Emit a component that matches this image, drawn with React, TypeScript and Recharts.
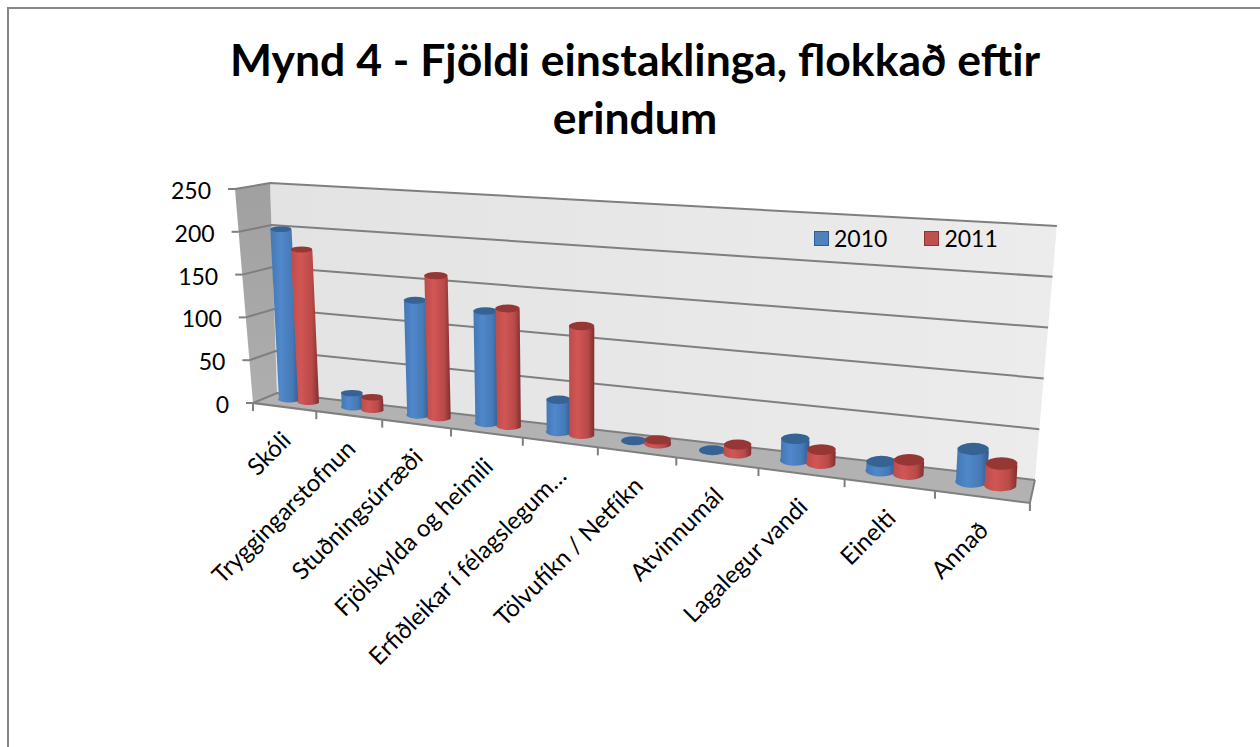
import { Bar, BarChart, Legend, ReferenceArea, XAxis, YAxis } from 'recharts';

const CATEGORIES = [
  'Skóli',
  'Tryggingarstofnun',
  'Stuðningsúrræði',
  'Fjölskylda og heimili',
  'Erfiðleikar í félagslegum…',
  'Tölvufíkn / Netfíkn',
  'Atvinnumál',
  'Lagalegur vandi',
  'Einelti',
  'Annað',
];
const VALUES_2010 = [200, 16, 130, 125, 35, 0, 0, 22, 9, 32];
const VALUES_2011 = [178, 14, 160, 130, 118, 4, 9, 14, 14, 21];
const Y_TICKS = [0, 50, 100, 150, 200, 250];
const Y_MAX = 250;

const data = CATEGORIES.map((name, i) => ({ name, y2010: VALUES_2010[i], y2011: VALUES_2011[i] }));

const WIDTH = 1260;
const HEIGHT = 747;
// flat plot rectangle that recharts lays out, later bent into the 3d box
const PLOT = { left: 253, right: 1030, top: 189, bottom: 403 };

// corners of the 3d box on screen
const FLOOR_BACK = [[277, 393], [1035, 480]];
const FLOOR_FRONT = [[253, 403], [1030, 503]];
const TOP_BACK = [[270, 183], [1057, 226]];
const TOP_FRONT = [[235, 189], [1035, 243]];
const BAR_DEPTH = 0.38;

const mix = (a: number, b: number, k: number) => a + (b - a) * k;
const mixPt = (a: number[], b: number[], k: number) => [mix(a[0], b[0], k), mix(a[1], b[1], k)];

// horizontal perspective, things get wider to the right
const persp = (t: number) => (t * 0.798) / (1 - 0.2019 * t);
const toT = (x: number) => (x - PLOT.left) / (PLOT.right - PLOT.left);
const toV = (y: number) => (PLOT.bottom - y) / (PLOT.bottom - PLOT.top);

function project(t: number, depth: number, v: number) {
  const s = persp(t);
  const floor = mixPt(mixPt(FLOOR_BACK[0], FLOOR_BACK[1], s), mixPt(FLOOR_FRONT[0], FLOOR_FRONT[1], s), depth);
  const top = mixPt(mixPt(TOP_BACK[0], TOP_BACK[1], s), mixPt(TOP_FRONT[0], TOP_FRONT[1], s), depth);
  return mixPt(floor, top, v);
}

const pts = (list: number[][]) => list.map((p) => p.join(',')).join(' ');

function Box() {
  return (
    <g>
      <polygon points={pts([project(0, 0, 0), project(1, 0, 0), project(1, 0, 1), project(0, 0, 1)])} fill="url(#wallFill)" />
      <polygon points={pts([project(0, 0, 0), project(0, 1, 0), project(0, 1, 1), project(0, 0, 1)])} fill="url(#sideFill)" />
      <polygon points={pts([project(0, 0, 0), project(1, 0, 0), project(1, 1, 0), project(0, 1, 0)])} fill="#b2b2b2" />
      {Y_TICKS.map((tick) => {
        const v = tick / Y_MAX;
        return (
          <polyline
            key={tick}
            points={pts([project(0, 1, v), project(0, 0, v), project(1, 0, v)])}
            fill="none"
            stroke="#7f7f7f"
            strokeWidth={2}
          />
        );
      })}
      <polyline points={pts([project(1, 0, 0), project(1, 1, 0), project(0, 1, 0)])} fill="none" stroke="#7f7f7f" strokeWidth={2} />
    </g>
  );
}

function Cylinder({ x, y, width, height, fill, top }: any) {
  const left = toT(x);
  const right = toT(x + width);
  const mid = (left + right) / 2;
  const v = toV(y);
  const b0 = project(left, BAR_DEPTH, 0);
  const b1 = project(right, BAR_DEPTH, 0);
  const t0 = project(left, BAR_DEPTH, v);
  const t1 = project(right, BAR_DEPTH, v);
  const s = persp(mid);
  const ry = 0.28 * (mix(FLOOR_FRONT[0][1], FLOOR_FRONT[1][1], s) - mix(FLOOR_BACK[0][1], FLOOR_BACK[1][1], s));
  const rx = (b1[0] - b0[0]) / 2;
  const cx = (t0[0] + t1[0]) / 2;
  const cy = (t0[1] + t1[1]) / 2;
  if (!height) {
    // empty value, only the flat disc is left
    return <ellipse cx={cx} cy={cy} rx={rx} ry={ry} fill={top} />;
  }
  const body = `M${b0[0]},${b0[1]} A${rx},${ry} 0 0 0 ${b1[0]},${b1[1]} L${t1[0]},${t1[1]} L${t0[0]},${t0[1]} Z`;
  return (
    <g>
      <path d={body} fill={fill} />
      <ellipse cx={cx} cy={cy} rx={(t1[0] - t0[0]) / 2} ry={ry} fill={top} />
    </g>
  );
}

function YTick({ y, payload }: any) {
  const p = project(0, 1, toV(y));
  return (
    <g>
      <line x1={p[0] - 7} y1={p[1]} x2={p[0]} y2={p[1]} stroke="#7f7f7f" strokeWidth={2} />
      <text x={p[0] - 24} y={p[1]} dy={10} textAnchor="end" fontSize={23} fontFamily="Lato" fill="#000">
        {payload.value}
      </text>
    </g>
  );
}

function XTick({ x, payload, index }: any) {
  const band = 1 / CATEGORIES.length;
  const t = toT(x);
  const edge = project(t - band / 2, 1, 0);
  const c = project(t, 1, 0);
  return (
    <g>
      <line x1={edge[0]} y1={edge[1]} x2={edge[0]} y2={edge[1] + 8} stroke="#7f7f7f" strokeWidth={2} />
      {index === CATEGORIES.length - 1 && (() => {
        const end = project(1, 1, 0);
        return <line x1={end[0]} y1={end[1]} x2={end[0]} y2={end[1] + 8} stroke="#7f7f7f" strokeWidth={2} />;
      })()}
      <text
        x={c[0] + 8}
        y={c[1] + 35}
        textAnchor="end"
        fontSize={24}
        fontFamily="Lato"
        fill="#000"
        transform={`rotate(-45 ${c[0] + 8} ${c[1] + 35})`}
      >
        {payload.value}
      </text>
    </g>
  );
}

function LegendBox({ payload }: any) {
  return (
    <div style={{ display: 'flex', gap: 37, fontFamily: 'Lato', fontSize: 23, color: '#000', lineHeight: '26px' }}>
      {(payload || []).map((item: any) => (
        <div key={item.value} style={{ display: 'flex', alignItems: 'center', gap: 5 }}>
          <div
            style={{
              width: 15,
              height: 15,
              boxSizing: 'border-box',
              border: `1px solid ${item.value === '2010' ? '#2f5c92' : '#8f3432'}`,
              background: item.value === '2010' ? '#4f81bd' : '#c0504d',
            }}
          />
          {item.value}
        </div>
      ))}
    </div>
  );
}

export default function App() {
  return (
    <div style={{ position: 'absolute', left: 0, top: 0, width: WIDTH, height: HEIGHT, overflow: 'hidden', background: '#fff' }}>
      <div style={{ position: 'absolute', left: 7, top: 7, width: WIDTH, height: HEIGHT, borderLeft: '2px solid #868686', borderTop: '2px solid #868686' }} />
      <div
        style={{
          position: 'absolute',
          left: 0,
          top: 30,
          width: 1270,
          textAlign: 'center',
          fontFamily: 'Lato',
          fontWeight: 700,
          fontSize: 44.5,
          lineHeight: '58px',
        }}
      >
        Mynd 4 - Fjöldi einstaklinga, flokkað eftir
        <br />
        erindum
      </div>
      <BarChart
        width={WIDTH}
        height={HEIGHT}
        data={data}
        barSize={26}
        barGap={-2}
        barCategoryGap="32%"
        margin={{ left: 0, right: WIDTH - PLOT.right, top: PLOT.top, bottom: 0 }}
        style={{ position: 'absolute', left: 0, top: 0 }}
      >
        <defs>
          <linearGradient id="wallFill" x1="0" y1="0" x2="1" y2="0">
            <stop offset="0" stopColor="#e3e3e3" />
            <stop offset="1" stopColor="#ececec" />
          </linearGradient>
          <linearGradient id="sideFill" x1="0" y1="0" x2="0" y2="1">
            <stop offset="0" stopColor="#a0a0a0" />
            <stop offset="1" stopColor="#aeaeae" />
          </linearGradient>
          <linearGradient id="blueBody" x1="0" y1="0" x2="1" y2="0">
            <stop offset="0" stopColor="#4477b3" />
            <stop offset="0.35" stopColor="#5088cb" />
            <stop offset="0.75" stopColor="#4679b6" />
            <stop offset="1" stopColor="#2f5b90" />
          </linearGradient>
          <linearGradient id="redBody" x1="0" y1="0" x2="1" y2="0">
            <stop offset="0" stopColor="#bd4c4a" />
            <stop offset="0.35" stopColor="#d15654" />
            <stop offset="0.75" stopColor="#b94a48" />
            <stop offset="1" stopColor="#7f2f2d" />
          </linearGradient>
        </defs>
        <ReferenceArea x1={CATEGORIES[0]} x2={CATEGORIES[9]} y1={0} y2={Y_MAX} shape={<Box />} />
        <XAxis dataKey="name" interval={0} axisLine={false} tickLine={false} tick={<XTick />} height={HEIGHT - PLOT.bottom} />
        <YAxis domain={[0, Y_MAX]} ticks={Y_TICKS} axisLine={false} tickLine={false} tick={<YTick />} width={PLOT.left} />
        <Legend
          layout="horizontal"
          verticalAlign="middle"
          align="center"
          content={<LegendBox />}
          wrapperStyle={{ left: 814, top: 225, width: 220 }}
        />
        <Bar dataKey="y2010" name="2010" isAnimationActive={false} fill="#4f81bd" shape={<Cylinder fill="url(#blueBody)" top="#376394" />} />
        <Bar dataKey="y2011" name="2011" isAnimationActive={false} fill="#c0504d" shape={<Cylinder fill="url(#redBody)" top="#953735" />} />
      </BarChart>
    </div>
  );
}
